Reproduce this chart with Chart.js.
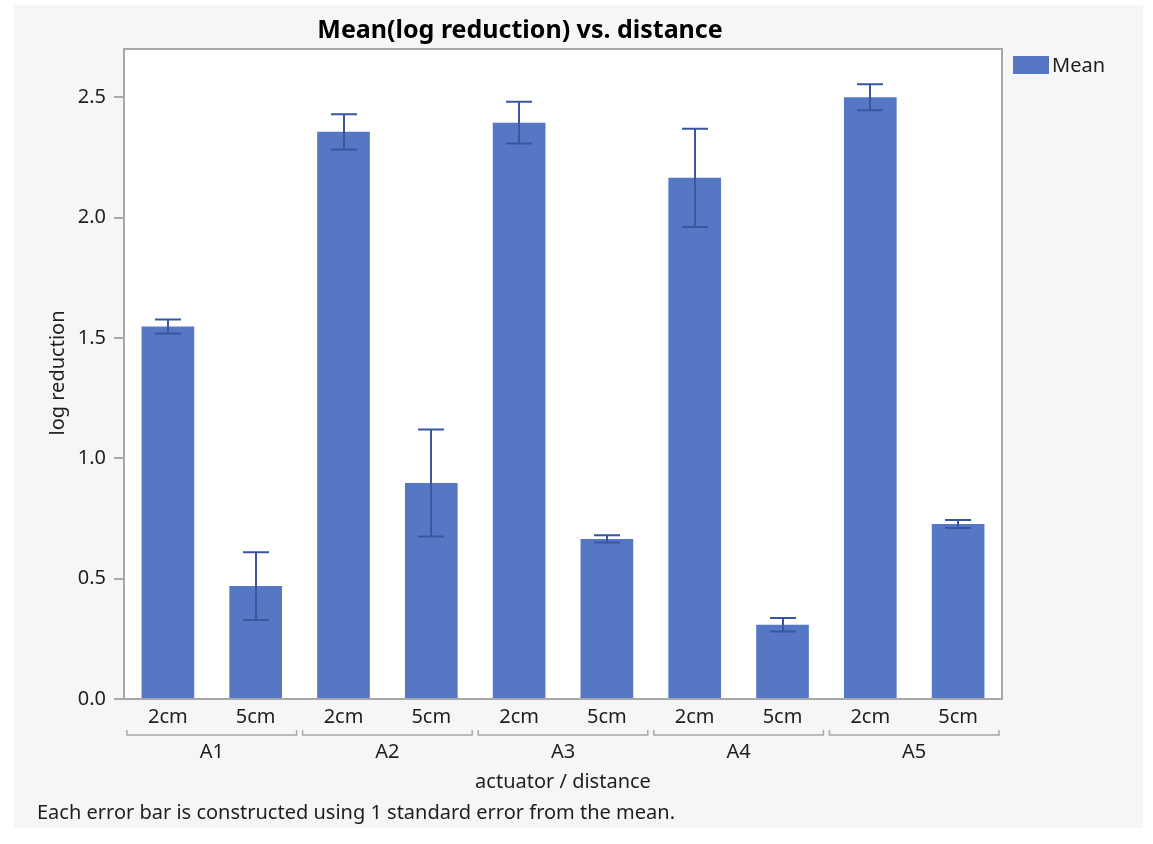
<!DOCTYPE html>
<html>
<head>
<meta charset="utf-8">
<title>Mean(log reduction) vs. distance</title>
<script src="https://cdn.jsdelivr.net/npm/chart.js@4/dist/chart.umd.min.js"></script>
<style>
  html, body { margin: 0; padding: 0; background: #ffffff; }
  #wrap { width: 1153px; height: 844px; position: relative; }
</style>
</head>
<body>
<div id="wrap"><canvas id="chart" width="1153" height="844"></canvas></div>
<script>
// Mean log reduction per actuator and distance, with one standard error
const actuators = ['A1', 'A2', 'A3', 'A4', 'A5'];
const distances = ['2cm', '5cm'];
const meanValues = [1.547, 0.469, 2.356, 0.897, 2.394, 0.665, 2.165, 0.308, 2.500, 0.727];
const stdErrors  = [0.029, 0.141, 0.073, 0.222, 0.087, 0.015, 0.204, 0.028, 0.054, 0.017];
const yTicks = [0.0, 0.5, 1.0, 1.5, 2.0, 2.5];

const FONT = "'Noto Sans', 'Open Sans', sans-serif";
const TEXT = '#1e1e1e';
const AXIS = '#a8a8a8';
const BAR = '#5677c4';
const ERR = '#3a56a0';

// one x slot per (actuator, distance) pair
const xLabels = [];
actuators.forEach(() => distances.forEach(d => xLabels.push(d)));

const framePlugin = {
  id: 'frame',
  beforeDraw(chart) {
    const { ctx, chartArea: a } = chart;
    ctx.save();
    ctx.fillStyle = '#ffffff';
    ctx.fillRect(0, 0, chart.width, chart.height);
    ctx.fillStyle = '#f6f6f6';
    ctx.fillRect(14, 5, 1129, 823);
    ctx.fillStyle = '#ffffff';
    ctx.fillRect(a.left, a.top, a.right - a.left, a.bottom - a.top);
    ctx.restore();
  },
  afterDatasetsDraw(chart) {
    // error bars: mean ± 1 standard error
    const { ctx } = chart;
    const meta = chart.getDatasetMeta(0);
    const y = chart.scales.y;
    ctx.save();
    ctx.strokeStyle = ERR;
    ctx.lineWidth = 2;
    meta.data.forEach((bar, i) => {
      const x = Math.round(bar.x);
      const hi = y.getPixelForValue(meanValues[i] + stdErrors[i]);
      const lo = y.getPixelForValue(meanValues[i] - stdErrors[i]);
      const cap = 13;
      ctx.beginPath();
      ctx.moveTo(x, hi); ctx.lineTo(x, lo);
      ctx.moveTo(x - cap, hi); ctx.lineTo(x + cap, hi);
      ctx.moveTo(x - cap, lo); ctx.lineTo(x + cap, lo);
      ctx.stroke();
    });
    ctx.restore();
  },
  afterDraw(chart) {
    const { ctx, chartArea: a } = chart;
    const xs = chart.scales.x;
    ctx.save();
    // top and right edges of the plot frame
    ctx.strokeStyle = AXIS;
    ctx.lineWidth = 2;
    ctx.beginPath();
    ctx.moveTo(a.left, a.top); ctx.lineTo(a.right, a.top); ctx.lineTo(a.right, a.bottom);
    ctx.stroke();

    // actuator group brackets and labels
    const slot = (a.right - a.left) / xLabels.length;
    ctx.lineWidth = 1.5;
    ctx.fillStyle = TEXT;
    ctx.font = '20px ' + FONT;
    ctx.textAlign = 'center';
    ctx.textBaseline = 'middle';
    actuators.forEach((name, g) => {
      const first = xs.getPixelForValue(g * distances.length);
      const last = xs.getPixelForValue(g * distances.length + distances.length - 1);
      const l = first - slot / 2 + 3;
      const r = last + slot / 2 - 3;
      const by = 735;
      ctx.beginPath();
      ctx.moveTo(l, by - 5); ctx.lineTo(l, by); ctx.lineTo(r, by); ctx.lineTo(r, by - 5);
      ctx.stroke();
      ctx.fillText(name, (l + r) / 2, 752);
    });

    // x axis title
    ctx.fillText('actuator / distance', (a.left + a.right) / 2, 782);

    // y axis title
    ctx.save();
    ctx.translate(58, 373);
    ctx.rotate(-Math.PI / 2);
    ctx.fillText('log reduction', 0, 0);
    ctx.restore();

    // chart title
    ctx.font = 'bold 25px ' + FONT;
    ctx.fillStyle = '#000000';
    ctx.fillText('Mean(log reduction) vs. distance', 520, 31);

    // legend
    ctx.fillStyle = BAR;
    ctx.fillRect(1013, 56, 36, 18);
    ctx.fillStyle = TEXT;
    ctx.font = '20px ' + FONT;
    ctx.textAlign = 'left';
    ctx.fillText('Mean', 1052, 66);

    // footnote
    ctx.font = '20px ' + FONT;
    ctx.fillText('Each error bar is constructed using 1 standard error from the mean.', 37, 813);
    ctx.restore();
  }
};

new Chart(document.getElementById('chart'), {
  type: 'bar',
  data: {
    labels: xLabels,
    datasets: [{
      label: 'Mean',
      data: meanValues,
      backgroundColor: BAR,
      borderWidth: 0,
      barPercentage: 0.6,
      categoryPercentage: 1.0
    }]
  },
  options: {
    responsive: false,
    animation: false,
    devicePixelRatio: 1,
    layout: { padding: { left: 14, top: 49, right: 151, bottom: 15 } },
    plugins: {
      legend: { display: false },
      title: { display: false },
      tooltip: { enabled: false }
    },
    scales: {
      x: {
        type: 'category',
        grid: { display: false },
        border: { display: true, color: AXIS, width: 2 },
        ticks: { color: TEXT, font: { family: FONT, size: 20 }, padding: -2, maxRotation: 0, autoSkip: false },
        afterFit(scale) { scale.height = 130; }
      },
      y: {
        min: 0,
        max: 2.7,
        grid: { drawOnChartArea: false, drawTicks: true, tickLength: 10, color: AXIS, lineWidth: 2 },
        border: { display: true, color: AXIS, width: 2 },
        ticks: {
          color: TEXT,
          font: { family: FONT, size: 20 },
          padding: 8,
          callback: v => Number(v).toFixed(1)
        },
        afterBuildTicks(scale) { scale.ticks = yTicks.map(v => ({ value: v })); },
        afterFit(scale) { scale.width = 110; }
      }
    }
  },
  plugins: [framePlugin]
});
</script>
</body>
</html>
